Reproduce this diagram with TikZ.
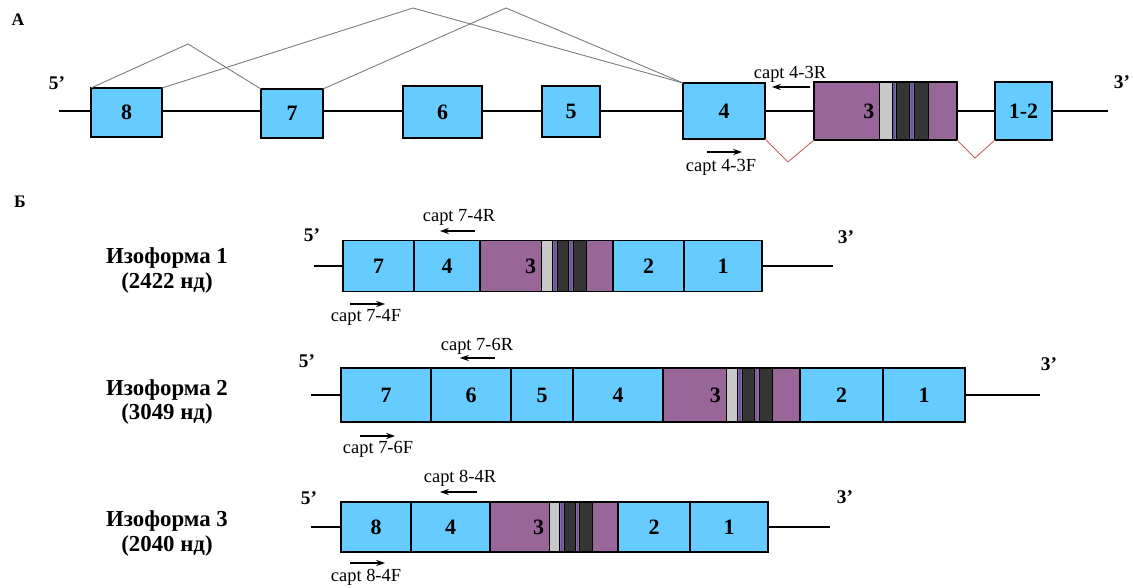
\documentclass[tikz,border=0pt]{standalone}
\usepackage{fontspec}
\setmainfont{Liberation Serif}
\usepackage{xcolor}
\usetikzlibrary{arrows.meta,positioning,calc}
\definecolor{exblue}{HTML}{66CCFF}
\definecolor{expurple}{HTML}{996699}
\definecolor{bandgray}{HTML}{C8C8C8}
\definecolor{banddark}{HTML}{353535}
\definecolor{bandline}{HTML}{5A5AAA}
\definecolor{splicegray}{HTML}{7A7A7A}
\definecolor{skipred}{HTML}{C06060}
% stripes inside exon 3
\newcommand{\bands}[1]{%
  \filldraw[fill=bandgray, draw=black, line width=0.4pt] ($(#1.north west)!0.46!(#1.north east)$) rectangle ($(#1.south west)!0.545!(#1.south east)$);
  \filldraw[fill=banddark, draw=black, line width=0.4pt] ($(#1.north west)!0.578!(#1.north east)$) rectangle ($(#1.south west)!0.665!(#1.south east)$);
  \filldraw[fill=banddark, draw=black, line width=0.4pt] ($(#1.north west)!0.70!(#1.north east)$) rectangle ($(#1.south west)!0.80!(#1.south east)$);
  \draw[bandline, line width=1pt] ($(#1.north west)!0.562!(#1.north east)$) -- ($(#1.south west)!0.562!(#1.south east)$);
  \draw[bandline, line width=1pt] ($(#1.north west)!0.683!(#1.north east)$) -- ($(#1.south west)!0.683!(#1.south east)$);
  \draw[line width=1.1pt] (#1.north west) rectangle (#1.south east);}

\begin{document}
\begin{tikzpicture}[
  x=0.02cm, y=-0.02cm,
  font=\fontsize{10.5}{12}\selectfont,
  exon/.style={draw, line width=1.1pt, fill=exblue, inner sep=0pt, outer sep=0pt, minimum width=#1*0.02cm, font=\fontsize{12.5}{14}\selectfont\bfseries},
  exthree/.style={exon=#1, fill=expurple},
  tall/.style={minimum height=#1*0.02cm},
  num/.style={font=\fontsize{12.5}{14}\selectfont\bfseries, inner sep=0pt, text=black},
  tag/.style={font=\fontsize{11}{13}\selectfont\bfseries, inner sep=0pt},
  panel/.style={font=\fontsize{10}{12}\selectfont\bfseries, inner sep=0pt},
  iso/.style={font=\fontsize{13}{14.2}\selectfont\bfseries, align=center, inner sep=0pt},
  primer/.style={inner sep=0pt},
  intron/.style={line width=1.1pt},
  splice/.style={draw=splicegray, line width=0.5pt},
  skip/.style={draw=skipred, line width=0.5pt},
  parr/.style={-{Stealth[length=5pt, width=3.5pt]}, line width=0.7pt}
]
\useasboundingbox (0,0) rectangle (1133,588);

% --- A: gene
\node[panel] (pa) at (18,20) {А};
\coordinate (s5a) at (59,111);
\coordinate (s3a) at (1108,111);
\draw[intron] (s5a) -- (s3a);
\node[tag] (t5a) at (57,83) {5’};
\node[tag] (t3a) at (1122,82) {3’};
\node[exon=71, tall=49] (a8) at (126.5,112.5) {8};
\node[exon=62, tall=49] (a7) at (292,113.5) {7};
\node[exon=79, tall=52] (a6) at (442.5,112) {6};
\node[exon=58, tall=51] (a5) at (571,111.5) {5};
\node[exon=82, tall=56] (a4) at (724,111) {4};
\node[exthree=143, tall=58] (a3) at (885.5,111) {};
\bands{a3}
\node[num, anchor=east] (n3a) at ($(a3.west)!0.425!(a3.east)$) {3};
\node[exon=57, tall=58] (a12) at (1023.5,111) {1-2};

% splicing
\coordinate (k1) at (188,44);
\coordinate (k2) at (413,8);
\coordinate (k3) at (506,8);
\draw[splice] (a8.north west) -- (k1) -- (a7.north west);
\draw[splice] (a8.north east) -- (k2) -- (a4.north west);
\draw[splice] (a7.north east) -- (k3) -- (a4.north west);
\coordinate (v1) at (788,162);
\coordinate (v2) at (975,158);
\draw[skip] (a4.south east) -- (v1) -- (a3.south west);
\draw[skip] (a3.south east) -- (v2) -- (a12.south west);

% primers
\node[primer] (p43r) at (790,74) {capt 4-3R};
\coordinate (r43s) at (810,87);
\coordinate (r43e) at (772,87);
\draw[parr] (r43s) -- (r43e);
\node[primer] (p43f) at (721,167) {capt 4-3F};
\coordinate (f43s) at (707,152);
\coordinate (f43e) at (742,152);
\draw[parr] (f43s) -- (f43e);

% --- Б: isoforms
\node[panel] (pb) at (20,202) {Б};

% isoform 1
\node[iso] (i1) at (167,270.5) {Изоформа 1\\(2422 нд)};
\coordinate (s5b1) at (314,266);
\coordinate (s3b1) at (833,266);
\draw[intron] (s5b1) -- (s3b1);
\node[tag] (t5b1) at (312,235) {5’};
\node[tag] (t3b1) at (846,237) {3’};
\node[exon=71, tall=51, anchor=west] (b17) at (343,266) {7};
\node[exon=66, tall=51, right=0pt of b17] (b14) {4};
\node[exthree=133, tall=51, right=0pt of b14] (b13) {};
\node[exon=71, tall=51, right=0pt of b13] (b12) {2};
\node[exon=78, tall=51, right=0pt of b12] (b11) {1};
\bands{b13}
\node[num, anchor=east] (n3b1) at ($(b13.west)!0.425!(b13.east)$) {3};
\node[primer] (p74r) at (459,217) {capt 7-4R};
\coordinate (r74s) at (475,231);
\coordinate (r74e) at (440,231);
\draw[parr] (r74s) -- (r74e);
\node[primer] (p74f) at (366,317) {capt 7-4F};
\coordinate (f74s) at (350,304);
\coordinate (f74e) at (385,304);
\draw[parr] (f74s) -- (f74e);

% isoform 2
\node[iso] (i2) at (167,402) {Изоформа 2\\(3049 нд)};
\coordinate (s5b2) at (311,395);
\coordinate (s3b2) at (1040,395);
\draw[intron] (s5b2) -- (s3b2);
\node[tag] (t5b2) at (307,361) {5’};
\node[tag] (t3b2) at (1049,364) {3’};
\node[exon=90, tall=54, anchor=west] (c27) at (341,395) {7};
\node[exon=80, tall=54, right=0pt of c27] (c26) {6};
\node[exon=62, tall=54, right=0pt of c26] (c25) {5};
\node[exon=90, tall=54, right=0pt of c25] (c24) {4};
\node[exthree=137, tall=54, right=0pt of c24] (c23) {};
\node[exon=83, tall=54, right=0pt of c23] (c22) {2};
\node[exon=82, tall=54, right=0pt of c22] (c21) {1};
\bands{c23}
\node[num, anchor=east] (n3b2) at ($(c23.west)!0.425!(c23.east)$) {3};
\node[primer] (p76r) at (477,346) {capt 7-6R};
\coordinate (r76s) at (495,358);
\coordinate (r76e) at (460,358);
\draw[parr] (r76s) -- (r76e);
\node[primer] (p76f) at (378,449) {capt 7-6F};
\coordinate (f76s) at (360,436);
\coordinate (f76e) at (395,436);
\draw[parr] (f76s) -- (f76e);

% isoform 3
\node[iso] (i3) at (167,533.5) {Изоформа 3\\(2040 нд)};
\coordinate (s5b3) at (311,527);
\coordinate (s3b3) at (830,527);
\draw[intron] (s5b3) -- (s3b3);
\node[tag] (t5b3) at (309,498) {5’};
\node[tag] (t3b3) at (845,497) {3’};
\node[exon=70, tall=50, anchor=west] (d38) at (341,527) {8};
\node[exon=79, tall=50, right=0pt of d38] (d34) {4};
\node[exthree=128, tall=50, right=0pt of d34] (d33) {};
\node[exon=72, tall=50, right=0pt of d33] (d32) {2};
\node[exon=78, tall=50, right=0pt of d32] (d31) {1};
\bands{d33}
\node[num, anchor=east] (n3b3) at ($(d33.west)!0.425!(d33.east)$) {3};
\node[primer] (p84r) at (460,478) {capt 8-4R};
\coordinate (r84s) at (477,492);
\coordinate (r84e) at (440,492);
\draw[parr] (r84s) -- (r84e);
\node[primer] (p84f) at (366,577) {capt 8-4F};
\coordinate (f84s) at (350,563);
\coordinate (f84e) at (385,563);
\draw[parr] (f84s) -- (f84e);
\end{tikzpicture}
\end{document}
